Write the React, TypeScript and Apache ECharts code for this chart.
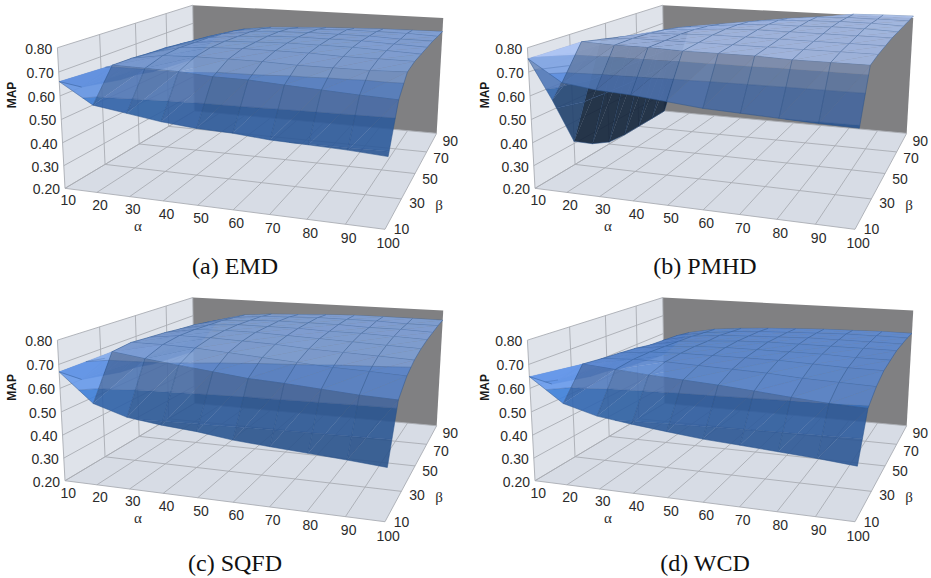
import React, { useEffect, useRef } from "react";
import * as echarts from "echarts";

const alphaValues = [10, 20, 30, 40, 50, 60, 70, 80, 90, 100];
const betaValues = [10, 20, 30, 40, 50, 60, 70, 80, 90];
const betaTicks = [10, 30, 50, 70, 90];
const mapTicks = [0.2, 0.3, 0.4, 0.5, 0.6, 0.7, 0.8];

const mapEMD = [
  [0.66, 0.574, 0.553, 0.532, 0.519, 0.514, 0.502, 0.498, 0.493, 0.484],
  [0.6, 0.706, 0.703, 0.7, 0.69, 0.688, 0.679, 0.671, 0.663, 0.657],
  [0.58, 0.703, 0.725, 0.73, 0.73, 0.73, 0.725, 0.725, 0.725, 0.73],
  [0.56, 0.695, 0.73, 0.74, 0.745, 0.745, 0.745, 0.74, 0.74, 0.74],
  [0.55, 0.69, 0.725, 0.74, 0.745, 0.75, 0.75, 0.75, 0.745, 0.74],
  [0.53, 0.68, 0.72, 0.735, 0.745, 0.75, 0.75, 0.75, 0.745, 0.74],
  [0.52, 0.67, 0.71, 0.73, 0.74, 0.745, 0.745, 0.745, 0.74, 0.74],
  [0.51, 0.66, 0.70, 0.72, 0.73, 0.735, 0.74, 0.74, 0.74, 0.735],
  [0.5, 0.647, 0.685, 0.703, 0.711, 0.718, 0.723, 0.728, 0.73, 0.732],
];
const mapPMHD = [
  [0.755, 0.667, 0.649, 0.641, 0.627, 0.613, 0.607, 0.601, 0.595, 0.591],
  [0.543, 0.805, 0.8, 0.8, 0.795, 0.795, 0.795, 0.79, 0.79, 0.79],
  [0.31, 0.787, 0.8, 0.8, 0.8, 0.8, 0.8, 0.8, 0.8, 0.8],
  [0.25, 0.769, 0.795, 0.8, 0.805, 0.805, 0.805, 0.805, 0.805, 0.805],
  [0.21, 0.749, 0.785, 0.795, 0.805, 0.81, 0.81, 0.81, 0.81, 0.81],
  [0.2, 0.733, 0.77, 0.785, 0.8, 0.81, 0.81, 0.815, 0.815, 0.81],
  [0.2, 0.715, 0.75, 0.77, 0.79, 0.805, 0.81, 0.815, 0.815, 0.81],
  [0.2, 0.694, 0.72, 0.74, 0.77, 0.79, 0.805, 0.81, 0.81, 0.81],
  [0.2, 0.677, 0.687, 0.711, 0.735, 0.758, 0.78, 0.804, 0.808, 0.81],
];
const mapSQFD = [
  [0.669, 0.549, 0.505, 0.487, 0.475, 0.456, 0.445, 0.435, 0.425, 0.413],
  [0.6, 0.731, 0.712, 0.695, 0.679, 0.663, 0.655, 0.644, 0.633, 0.627],
  [0.58, 0.74, 0.74, 0.735, 0.725, 0.715, 0.705, 0.695, 0.69, 0.683],
  [0.56, 0.733, 0.75, 0.75, 0.745, 0.74, 0.73, 0.725, 0.72, 0.714],
  [0.55, 0.727, 0.75, 0.755, 0.755, 0.75, 0.745, 0.74, 0.735, 0.73],
  [0.53, 0.717, 0.745, 0.755, 0.755, 0.755, 0.75, 0.75, 0.745, 0.74],
  [0.52, 0.71, 0.74, 0.75, 0.755, 0.755, 0.755, 0.75, 0.75, 0.745],
  [0.51, 0.697, 0.73, 0.745, 0.75, 0.755, 0.755, 0.755, 0.75, 0.75],
  [0.5, 0.684, 0.72, 0.733, 0.739, 0.746, 0.751, 0.752, 0.752, 0.751],
];
const mapWCD = [
  [0.649, 0.549, 0.51, 0.491, 0.475, 0.46, 0.451, 0.441, 0.431, 0.418],
  [0.58, 0.678, 0.666, 0.654, 0.645, 0.636, 0.624, 0.611, 0.6, 0.594],
  [0.56, 0.668, 0.675, 0.675, 0.67, 0.665, 0.66, 0.65, 0.645, 0.64],
  [0.54, 0.66, 0.675, 0.68, 0.68, 0.68, 0.68, 0.675, 0.67, 0.669],
  [0.53, 0.651, 0.67, 0.68, 0.685, 0.685, 0.685, 0.685, 0.68, 0.68],
  [0.51, 0.637, 0.665, 0.675, 0.685, 0.69, 0.69, 0.69, 0.69, 0.69],
  [0.5, 0.632, 0.66, 0.675, 0.68, 0.685, 0.69, 0.69, 0.69, 0.69],
  [0.49, 0.626, 0.65, 0.665, 0.675, 0.68, 0.685, 0.69, 0.69, 0.69],
  [0.48, 0.614, 0.642, 0.656, 0.665, 0.672, 0.678, 0.681, 0.684, 0.684],
];
const captions = ["(a) EMD", "(b) PMHD", "(c) SQFD", "(d) WCD"];
const panelValues = [mapEMD, mapPMHD, mapSQFD, mapWCD];
const panelOrigins = [[0, 0], [470, 0], [0, 2.4 + 290], [470, 2.4 + 290]];

// Camera of the box, in 1/3 px units (homography of the floor plus a vertical vanishing point)
const H = { ax: 828.1, bx: 589.1, cx: 195, ay: 44.4, by: -117.1, cy: 565, g: -0.1142, h: 0.3449, vx: 733, vy: 10506, c: -0.0407 };
function project(panel: number, u: number, v: number, t: number): number[] {
  const s = H.c * t;
  const W = 1 + H.g * u + H.h * v;
  const X = H.cx + H.ax * u + H.bx * v;
  const Y = H.cy + H.ay * u + H.by * v;
  const d = W + s;
  const o = panelOrigins[panel];
  return [(X + s * H.vx) / d / 3 + o[0], (Y + s * H.vy) / d / 3 + o[1]];
}
const zToT = (z: number) => (z - 0.2) / 0.6;
const uOf = (j: number) => j / 9;
const vOf = (i: number) => i / 8;

const bands = [
  { lo: -1, hi: 0.5, rgb: [55, 109, 184] },
  { lo: 0.5, hi: 0.6, rgb: [55, 112, 192] },
  { lo: 0.6, hi: 0.7, rgb: [92, 136, 208] },
  { lo: 0.7, hi: 0.76, rgb: [125, 158, 213] },
  { lo: 0.76, hi: 2, rgb: [162, 184, 228] },
];

type V = { u: number; v: number; z: number };
function clip(poly: V[], lim: number, keepAbove: boolean): V[] {
  const out: V[] = [];
  const inside = (p: V) => (keepAbove ? p.z >= lim : p.z <= lim);
  for (let k = 0; k < poly.length; k++) {
    const a = poly[k];
    const b = poly[(k + 1) % poly.length];
    if (inside(a)) out.push(a);
    if (inside(a) !== inside(b)) {
      const f = (lim - a.z) / (b.z - a.z);
      out.push({ u: a.u + (b.u - a.u) * f, v: a.v + (b.v - a.v) * f, z: lim });
    }
  }
  return out;
}

function triangleParts(panel: number, tri: V[], dzA: number, dzB: number, children: any[]) {
  let f = 1 - (dzA > 0 ? 1.5 : 3) * dzA - 1.3 * dzB;
  f = Math.max(0.3, Math.min(1.22, f));
  for (const band of bands) {
    let p = clip(tri, band.lo, true);
    if (p.length) p = clip(p, band.hi, false);
    if (p.length < 3) continue;
    const col = band.rgb.map((c) => Math.min(255, Math.round(c * f)));
    children.push({
      type: "polygon",
      silent: true,
      shape: { points: p.map((q) => project(panel, q.u, q.v, zToT(q.z))) },
      style: { fill: `rgba(${col[0]},${col[1]},${col[2]},0.9)`, stroke: `rgba(${col[0]},${col[1]},${col[2]},0.35)`, lineWidth: 0.4 },
    });
  }
}

function surfaceSeries(panel: number) {
  const m = panelValues[panel];
  const data: number[][] = [];
  for (let i = betaValues.length - 1; i >= 0; i--) for (let j = 0; j < alphaValues.length; j++) data.push([j, i, m[i][j]]);
  const renderItem = (_p: any, api: any) => {
    const j = api.value(0);
    const i = api.value(1);
    const children: any[] = [];
    const line = (a: V, b: V, stroke: string) =>
      children.push({
        type: "line",
        silent: true,
        shape: (() => {
          const p = project(panel, a.u, a.v, zToT(a.z));
          const q = project(panel, b.u, b.v, zToT(b.z));
          return { x1: p[0], y1: p[1], x2: q[0], y2: q[1] };
        })(),
        style: { stroke, lineWidth: 0.8 },
      });
    const P = (jj: number, ii: number): V => ({ u: uOf(jj), v: vOf(ii), z: m[ii][jj] });
    const hasA = j < alphaValues.length - 1;
    const hasB = i < betaValues.length - 1;
    if (hasA && hasB) {
      const a = P(j, i), b = P(j + 1, i), c = P(j + 1, i + 1), d = P(j, i + 1);
      triangleParts(panel, [a, d, c], c.z - d.z, d.z - a.z, children);
      triangleParts(panel, [a, b, c], b.z - a.z, c.z - b.z, children);
      for (const lim of [0.5, 0.6, 0.7]) {
        for (const tri of [[a, d, c], [a, b, c]]) {
          const pts: V[] = [];
          for (let k = 0; k < 3; k++) {
            const s = tri[k], e = tri[(k + 1) % 3];
            if ((s.z - lim) * (e.z - lim) < 0) {
              const f = (lim - s.z) / (e.z - s.z);
              pts.push({ u: s.u + (e.u - s.u) * f, v: s.v + (e.v - s.v) * f, z: lim });
            }
          }
          if (pts.length === 2) line(pts[0], pts[1], "rgba(50,90,150,0.4)");
        }
      }
    }
    if (hasA) line(P(j, i), P(j + 1, i), "rgba(40,80,135,0.55)");
    if (hasB) line(P(j, i), P(j, i + 1), "rgba(40,80,135,0.55)");
    return { type: "group", children };
  };
  return { type: "custom", coordinateSystem: "none", silent: true, clip: false, data, renderItem, z: 2 };
}

function boxSeries(panel: number) {
  const o = panelOrigins[panel];
  const renderItem = () => {
    const ch: any[] = [];
    const poly = (pts: number[][], fill: string) =>
      ch.push({ type: "polygon", silent: true, shape: { points: pts }, style: { fill } });
    const seg = (p: number[], q: number[], stroke = "#a9adb3") =>
      ch.push({ type: "line", silent: true, shape: { x1: p[0], y1: p[1], x2: q[0], y2: q[1] }, style: { stroke, lineWidth: 0.9 } });
    const Pr = (u: number, v: number, t: number) => project(panel, u, v, t);
    poly([Pr(0, 0, 0), Pr(1, 0, 0), Pr(1, 1, 0), Pr(0, 1, 0)], "#d7dce5");
    poly([Pr(0, 0, 0), Pr(0, 1, 0), Pr(0, 1, 1), Pr(0, 0, 1)], "#dfe3ea");
    poly([Pr(0, 1, 0), Pr(1, 1, 0), Pr(1, 1, 1), Pr(0, 1, 1)], "#808082");
    alphaValues.forEach((_, j) => seg(Pr(uOf(j), 0, 0), Pr(uOf(j), 1, 0)));
    betaTicks.forEach((b) => {
      const v = (b - 10) / 80;
      seg(Pr(0, v, 0), Pr(1, v, 0));
      seg(Pr(0, v, 0), Pr(0, v, 1));
    });
    mapTicks.forEach((m) => {
      const t = zToT(m);
      seg(Pr(0, 0, t), Pr(0, 1, t));
      const p = Pr(0, 0, t);
      ch.push({
        type: "text", silent: true, x: p[0] - 5, y: p[1] + 1,
        style: { text: m.toFixed(2), fontFamily: "Liberation Sans", fontSize: 14, fill: "#2b2b2b", textAlign: "right", textVerticalAlign: "middle" },
      });
    });
    alphaValues.forEach((a, j) => {
      const p = Pr(uOf(j), 0, 0);
      ch.push({
        type: "text", silent: true, x: p[0] + 3.2, y: p[1] + 12 + 2 * uOf(j),
        style: { text: String(a), fontFamily: "Liberation Sans", fontSize: 14, fill: "#2b2b2b", textAlign: "center", textVerticalAlign: "middle" },
      });
    });
    betaTicks.forEach((b) => {
      const v = (b - 10) / 80;
      const p = Pr(1, v, 0);
      ch.push({
        type: "text", silent: true, x: p[0] + 16.5 - 3 * v, y: p[1] - 1 + 3.5 + 5 * v - (v === 0 ? 2.5 : 0),
        style: { text: String(b), fontFamily: "Liberation Sans", fontSize: 14, fill: "#2b2b2b", textAlign: "center", textVerticalAlign: "middle" },
      });
    });
    ch.push({
      type: "text", silent: true, x: o[0] + 12 + (panel % 2) * 3, y: o[1] + 95, rotation: Math.PI / 2,
      style: { text: "MAP", fontFamily: "Liberation Sans", fontWeight: "bold", fontSize: 12, fill: "#1a1a1a", textAlign: "center", textVerticalAlign: "middle" },
    });
    ch.push({
      type: "text", silent: true, x: o[0] + 138, y: o[1] + 226,
      style: { text: "α", fontFamily: "Liberation Serif", fontSize: 15, fill: "#2b2b2b", textAlign: "center", textVerticalAlign: "middle" },
    });
    ch.push({
      type: "text", silent: true, x: o[0] + 439, y: o[1] + 205,
      style: { text: "β", fontFamily: "Liberation Serif", fontSize: 15, fill: "#2b2b2b", textAlign: "center", textVerticalAlign: "middle" },
    });
    ch.push({
      type: "text", silent: true, x: o[0] + 235, y: o[1] + (panel < 2 ? 266 : 271),
      style: { text: captions[panel], fontFamily: "Liberation Serif", fontSize: 24, fill: "#111", textAlign: "center", textVerticalAlign: "middle" },
    });
    return { type: "group", children: ch };
  };
  return { type: "custom", coordinateSystem: "none", silent: true, clip: false, data: [[panel]], renderItem, z: 1 };
}

export default function App() {
  const ref = useRef<HTMLDivElement>(null);
  useEffect(() => {
    const chart = echarts.init(ref.current!, undefined, { renderer: "svg", width: 931, height: 578 });
    const series: any[] = [];
    for (let p = 0; p < 4; p++) {
      series.push(boxSeries(p));
      series.push(surfaceSeries(p));
    }
    chart.setOption({ animation: false, backgroundColor: "#fff", tooltip: { show: false }, series });
    return () => chart.dispose();
  }, []);
  return <div ref={ref} style={{ position: "absolute", left: 0, top: 0, width: 931, height: 578 }} />;
}
